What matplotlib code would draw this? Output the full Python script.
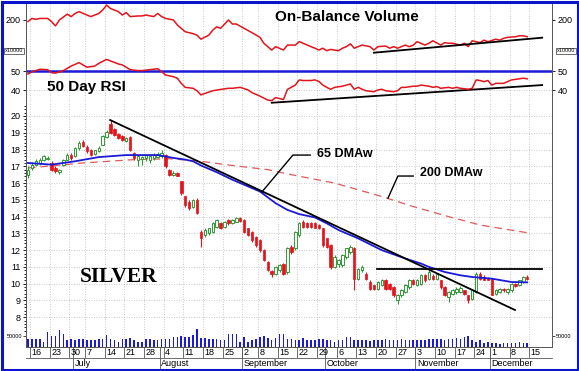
import numpy as np
import pandas as pd
import matplotlib
matplotlib.use('Agg')
import matplotlib.pyplot as plt
import matplotlib.transforms as mtransforms
from matplotlib.patches import Rectangle

plt.rcParams['font.family'] = ['Liberation Sans', 'DejaVu Sans']

# trading days on the axis (prices stop on 12 Dec)
holidays = pd.to_datetime(['2008-07-04', '2008-09-01', '2008-11-27'])
days = pd.bdate_range('2008-06-13', '2008-12-19')
days = days[~days.isin(holidays)]

opens = np.array([
    16.5, 16.9, 17.1, 17.2, 17.4, 17.45, 17.2, 16.9, 16.65, 17.1,
    17.4, 17.7, 17.6, 18.1, 18.45, 18.15, 18.0, 17.75, 17.9, 18.3,
    18.75, 19.5, 19.2, 18.95, 18.8, 18.5, 18.75, 17.8, 17.4, 17.45,
    17.5, 17.4, 17.5, 17.55, 17.6, 17.7, 16.8, 16.5, 16.6, 16.1,
    15.2, 14.9, 14.6, 15.0, 13.1, 12.9, 13.0, 13.1, 13.4, 13.6,
    13.4, 13.8, 13.6, 13.7, 13.9, 13.8, 13.3, 13.1, 12.8, 12.6,
    12.0, 11.3, 10.75, 10.6, 10.8, 11.2, 10.7, 12.2, 12.1, 12.9,
    13.7, 13.6, 13.6, 13.6, 13.5, 13.3, 12.7, 12.3, 11.0, 11.2,
    11.1, 11.6, 11.9, 12.1, 10.3, 10.8, 10.6, 10.1, 9.9, 9.7,
    9.9, 10.2, 10.0, 9.8, 9.0, 9.3, 9.5, 9.8, 10.2, 9.9,
    10.0, 10.5, 10.3, 10.45, 10.3, 10.2, 9.8, 9.2, 9.4, 9.5,
    9.5, 9.6, 9.3, 9.1, 9.5, 10.6, 10.4, 10.35, 10.3, 9.4,
    9.5, 9.7, 9.5, 9.6, 10.0, 9.9, 10.1, 10.4])
highs = np.array([
    17.0, 17.25, 17.45, 17.5, 17.7, 17.6, 17.3, 17.0, 16.85, 17.45,
    17.8, 17.8, 18.15, 18.5, 18.55, 18.25, 18.05, 18.0, 18.2, 18.85,
    19.15, 19.75, 19.3, 19.0, 18.85, 18.75, 18.8, 17.85, 17.7, 17.6,
    17.75, 17.65, 17.8, 17.85, 17.95, 17.75, 16.85, 16.7, 16.65, 16.15,
    15.25, 15.0, 15.05, 15.1, 13.2, 13.3, 13.35, 13.65, 13.85, 13.7,
    13.75, 13.85, 13.85, 14.0, 14.0, 13.85, 13.35, 13.15, 12.85, 12.65,
    12.05, 11.35, 10.8, 11.05, 11.15, 11.25, 12.2, 12.3, 13.15, 13.7,
    13.8, 13.7, 13.65, 13.7, 13.55, 13.35, 12.75, 12.35, 11.7, 11.5,
    11.75, 12.15, 12.3, 12.2, 10.95, 11.1, 10.7, 10.2, 9.95, 10.15,
    10.3, 10.3, 10.05, 9.85, 9.4, 9.7, 10.0, 10.3, 10.3, 10.3,
    10.6, 10.6, 10.8, 10.55, 10.65, 10.25, 9.85, 9.55, 9.7, 9.8,
    9.85, 9.65, 9.35, 9.65, 10.7, 10.7, 10.5, 10.4, 10.35, 9.7,
    9.75, 9.75, 9.75, 10.05, 10.05, 10.25, 10.45, 10.5])
lows = np.array([
    16.3, 16.8, 17.0, 17.1, 17.3, 17.35, 16.7, 16.6, 16.55, 17.0,
    17.35, 17.4, 17.55, 18.0, 18.15, 17.8, 17.6, 17.7, 17.85, 18.25,
    18.7, 18.9, 18.8, 18.6, 18.5, 18.45, 17.9, 17.4, 17.0, 17.1,
    17.3, 17.2, 17.4, 17.5, 17.5, 16.9, 16.45, 16.4, 16.4, 15.3,
    14.55, 14.4, 14.5, 14.15, 12.2, 12.8, 12.9, 13.0, 13.35, 13.25,
    13.3, 13.5, 13.55, 13.65, 13.7, 13.0, 12.85, 12.5, 12.2, 11.9,
    11.35, 10.75, 10.4, 10.5, 10.7, 10.5, 10.6, 11.8, 12.0, 12.8,
    13.35, 13.3, 13.3, 13.3, 13.25, 12.2, 12.1, 10.9, 10.95, 11.0,
    11.0, 11.5, 11.8, 9.6, 10.2, 10.7, 10.2, 9.6, 9.6, 9.6,
    9.85, 9.6, 9.6, 9.2, 8.8, 9.2, 9.45, 9.7, 9.9, 9.85,
    9.9, 10.1, 10.25, 10.2, 10.2, 9.7, 9.25, 8.9, 9.3, 9.4,
    9.45, 9.3, 8.85, 9.0, 9.45, 10.25, 10.2, 10.2, 9.3, 9.3,
    9.45, 9.5, 9.4, 9.5, 9.8, 9.85, 10.05, 10.25])
closes = np.array([
    16.8, 17.1, 17.3, 17.4, 17.6, 17.5, 16.8, 16.7, 16.75, 17.4,
    17.7, 17.5, 18.1, 18.4, 18.2, 17.9, 17.7, 17.95, 18.1, 18.8,
    19.05, 19.0, 18.85, 18.7, 18.55, 18.7, 17.95, 17.5, 17.6, 17.55,
    17.7, 17.6, 17.7, 17.75, 17.8, 17.0, 16.5, 16.6, 16.45, 15.4,
    14.7, 14.5, 15.0, 14.2, 12.75, 13.2, 13.3, 13.6, 13.8, 13.3,
    13.7, 13.6, 13.8, 13.9, 13.75, 13.1, 12.9, 12.6, 12.3, 12.0,
    11.4, 10.8, 10.55, 11.0, 11.1, 10.6, 12.1, 11.9, 13.1, 13.6,
    13.4, 13.4, 13.4, 13.35, 13.3, 12.3, 12.2, 11.0, 11.6, 11.4,
    11.7, 12.1, 12.2, 10.3, 10.9, 11.0, 10.3, 9.7, 9.7, 10.1,
    10.2, 9.7, 9.7, 9.3, 9.3, 9.6, 9.9, 10.2, 10.0, 10.2,
    10.5, 10.2, 10.7, 10.3, 10.6, 9.8, 9.3, 9.5, 9.6, 9.7,
    9.75, 9.4, 9.0, 9.6, 10.6, 10.3, 10.25, 10.25, 9.35, 9.6,
    9.7, 9.6, 9.7, 10.0, 9.85, 10.2, 10.4, 10.3])
# volume in thousands of contracts
volume = np.array([
    38, 35, 35, 35, 25, 67, 50, 50, 77, 60,
    30, 38, 30, 35, 38, 30, 30, 30, 35, 38,
    55, 35, 30, 22, 38, 38, 43, 30, 22, 22,
    35, 38, 30, 30, 38, 38, 38, 47, 47, 50,
    47, 47, 55, 80, 43, 43, 38, 38, 38, 33,
    33, 60, 60, 57, 22, 47, 22, 30, 38, 47,
    50, 43, 33, 43, 60, 60,
    38, 38, 33, 30, 42, 30, 33, 33, 38, 38,
    30, 30, 25, 33, 30, 47, 47, 30, 30, 30,
    30, 27, 30, 30, 30, 38, 30,
    30, 30, 38, 30, 33, 33, 30, 30, 33, 38,
    38, 38, 38, 33, 38, 38, 43, 38, 47, 50,
    30, 22, 30, 17, 22, 17, 17, 13, 17, 17,
    17, 17, 22, 17, 17])

# On-Balance Volume (x10000), read at these trading-day positions
obv_day = [0, 1, 2, 3, 5, 6, 7, 8, 10, 11, 12, 13, 15, 16, 18, 19, 20, 21, 23, 24,
           25, 26, 28, 29, 30, 32, 33, 34, 35, 37, 38, 39, 40, 42, 43, 44, 46, 47, 48, 49,
           51, 52, 53, 55, 57, 59, 60, 62, 63, 65, 66, 68, 69, 70, 72, 73, 74, 75, 76, 77,
           79, 80, 81, 82, 83, 84, 85, 87, 88, 89, 91, 92, 93, 94, 96, 97, 98, 99, 101, 102,
           103, 105, 106, 107, 108, 110, 111, 112, 113, 115, 116, 117, 119, 120, 121, 122,
           124, 125, 126, 127]
obv_val = [195, 205, 202, 205, 205, 195, 181, 200, 219, 211, 221, 227, 216, 211, 221, 232, 248, 237, 227, 216,
           224, 211, 213, 213, 216, 211, 221, 211, 205, 200, 184, 173, 162, 156, 151, 138, 151, 167, 178, 173,
           200, 187, 187, 173, 159, 144, 125, 103, 114, 103, 119, 119, 130, 125, 114, 109, 103, 109, 101, 105,
           101, 109, 114, 123, 109, 114, 119, 114, 103, 114, 116, 109, 114, 109, 119, 114, 119, 130, 119, 125,
           133, 119, 127, 125, 125, 119, 125, 114, 133, 127, 135, 130, 138, 135, 141, 144,
           146, 149, 149, 146]

rsi_day = [0, 1, 2, 3, 5, 6, 7, 9, 10, 11, 13, 14, 15, 17, 18, 20, 21, 23, 24, 25,
           26, 28, 29, 31, 33, 34, 35, 37, 38, 39, 40, 42, 43, 44, 45, 47, 49, 51, 52, 54,
           56, 57, 59, 61, 62, 63, 65, 66, 68, 69, 70, 72, 73, 74, 75, 76, 77, 78, 80, 81,
           82, 83, 84, 85, 86, 88, 89, 90, 91, 93, 94, 95, 96, 98, 99, 100, 102, 103, 104, 105,
           107, 108, 109, 110, 112, 113, 114, 115, 116, 117, 118, 119, 121, 122, 123, 124, 126, 127]
rsi_val = [48.4, 49.6, 50.2, 50.9, 50.7, 49.1, 48.9, 50.2, 51.4, 52.6, 54.4, 53.2, 52.0, 52.6, 54.0, 56.1, 55.3, 53.7, 53.2, 52.0,
           50.7, 50.2, 50.2, 50.7, 51.2, 49.6, 47.9, 47.0, 46.2, 43.5, 41.4, 40.9, 39.6, 37.4, 38.2, 39.6, 40.3, 40.9, 40.9, 41.4,
           40.0, 38.6, 36.8, 34.7, 34.4, 36.0, 35.0, 40.3, 42.6, 45.3, 45.0, 45.0, 45.3, 44.5, 42.6, 41.4, 40.4, 41.4, 42.0, 42.6,
           43.2, 40.4, 41.4, 40.4, 39.6, 39.1, 40.0, 40.4, 39.6, 39.1, 39.6, 41.4, 41.4, 42.0, 42.0, 42.6, 42.0, 41.4, 41.8, 40.9,
           41.4, 40.9, 41.4, 40.9, 40.4, 40.9, 45.3, 45.0, 44.4, 45.0, 42.6, 43.5, 43.5, 44.4, 45.3, 45.6, 46.2, 45.9]

# moving averages
ma65_day = [0, 6, 12, 18, 25, 33, 37, 40, 42, 44, 48, 52, 56, 59, 63, 66, 69, 73, 76, 79,
            84, 90, 96, 100, 102, 106, 110, 113, 118, 123, 127]
ma65_val = [17.2, 17.1, 17.3, 17.55, 17.67, 17.67, 17.5, 17.4, 17.3, 17.05, 16.65, 16.2, 15.8, 15.5, 14.8, 14.4,
            14.15, 13.95, 13.6, 13.2, 12.7, 12.0, 11.5, 11.2, 11.0, 10.7, 10.5, 10.4, 10.3, 10.1, 10.08]
ma200_day = [0, 14, 27, 36, 44, 52, 61, 67, 78, 90, 98, 107, 115, 127]
ma200_val = [16.9, 17.2, 17.4, 17.45, 17.3, 17.05, 16.8, 16.5, 16.0, 15.2, 14.6, 14.0, 13.5, 13.04]

W, H = 579, 371
RED = '#e3141c'
GREEN = '#2f9a35'
BLUE = '#1a1ad8'
XMIN, XMAX = -0.5, 133.3

fig = plt.figure(figsize=(W / 100, H / 100), dpi=100, facecolor='white')


def panel(top, bottom):
    return fig.add_axes([26 / W, (H - bottom) / H, 526 / W, (bottom - top) / H])


ax_obv = panel(3, 54)
ax_rsi = panel(54, 103)
ax = panel(103, 347)

x = np.arange(len(closes))
week_idx = [i for i in range(1, len(days)) if days[i].weekday() < days[i - 1].weekday()]
month_idx = [i for i in range(1, len(days)) if days[i].month != days[i - 1].month]
week_pos = [i - 0.5 for i in week_idx if i - 0.5 < XMAX - 2]

for a in (ax_obv, ax_rsi, ax):
    a.set_xlim(XMIN, XMAX)
    a.set_xticks(week_pos)
    a.tick_params(axis='x', length=0, labelbottom=False)
    a.grid(axis='x', color='#b8b8b8', lw=0.6, ls=(0, (1, 2)))
    a.tick_params(axis='y', which='both', left=True, right=True, labelleft=True, labelright=True,
                  direction='out', length=2.5, width=0.6, labelsize=6.5, pad=1.5)
    a.tick_params(axis='y', which='minor', length=1.3)
    for s in a.spines.values():
        s.set_color('#555555')
        s.set_linewidth(0.7)
    a.spines['top'].set_visible(False)
ax_obv.spines['bottom'].set_visible(False)
ax_rsi.spines['bottom'].set_visible(False)

# On-Balance Volume
ax_obv.plot(obv_day, obv_val, color=RED, lw=1.1)
ax_obv.plot([88, 130.8], [94.5, 142.9], color='black', lw=1.3)
ax_obv.set_ylim(90.3, 254.8)
ax_obv.set_yticks([200])
ax_obv.text(0.473, 0.725, 'On-Balance Volume', transform=ax_obv.transAxes, fontsize=11,
            fontweight='bold', ha='left', va='center')

# RSI
ax_rsi.axhline(50, color=BLUE, lw=1.8, zorder=2)
ax_rsi.plot(rsi_day, rsi_val, color=RED, lw=1.1, zorder=3)
ax_rsi.plot([62, 130.8], [33.3, 42.6], color='black', lw=1.3, clip_on=False)
ax_rsi.set_ylim(33.16, 58.95)
ax_rsi.set_yticks([40, 50])
ax_rsi.grid(axis='y', color='#b8b8b8', lw=0.6, ls=(0, (1, 2)))
ax_rsi.text(0.04, 0.33, '50 Day RSI', transform=ax_rsi.transAxes, fontsize=11,
            fontweight='bold', ha='left', va='center')

# volume at the foot of the price panel
ax_vol = ax.twinx()
ax_vol.bar(x, volume, width=0.4, color=BLUE, zorder=1)
ax_vol.set_ylim(0, 50 * 244 / 11)
ax_vol.set_yticks([50])
ax_vol.set_yticklabels(['50000'])
ax_vol.tick_params(axis='y', left=True, right=True, labelleft=True, labelright=True,
                   direction='out', length=2, width=0.5, labelsize=4, pad=1)
for s in ax_vol.spines.values():
    s.set_visible(False)

# price candles
up = closes >= opens
ax.vlines(x, lows, highs, colors=np.where(up, GREEN, RED), lw=0.8, zorder=3)
ax.bar(x[up], (closes - opens)[up], bottom=opens[up], width=0.62, facecolor='white',
       edgecolor=GREEN, lw=0.7, zorder=4)
ax.bar(x[~up], (opens - closes)[~up], bottom=closes[~up], width=0.62, color=RED,
       edgecolor=RED, lw=0.5, zorder=4)

ax.plot(ma200_day, ma200_val, color='#e25a5a', lw=0.9, ls=(0, (6, 4)), zorder=2)
ax.plot(ma65_day, ma65_val, color=BLUE, lw=1.3, zorder=5)
ax.plot([20.9, 123.9], [19.76, 8.43], color='black', lw=1.3, zorder=6)
ax.plot([88.8, 130.8], [10.87, 10.87], color='black', lw=1.3, zorder=6)

ax.set_ylim(6.225, 20.775)
ax.set_yticks(range(8, 21))
ax.set_yticks(np.arange(7.2, 20.8, 0.2), minor=True)
ax.grid(axis='y', color='#b8b8b8', lw=0.6, ls=(0, (1, 2)))
ax.set_zorder(ax_vol.get_zorder() + 1)
ax.patch.set_visible(False)

ax.plot([59.5, 67.4, 71.8], [15.47, 17.67, 17.67], color='black', lw=1.0, zorder=7)
ax.text(73.6, 17.73, '65 DMAw', fontsize=9, fontweight='bold', ha='left', va='center')
ax.plot([91.6, 94.1, 98.0], [15.11, 16.42, 16.42], color='black', lw=1.0, zorder=7)
ax.text(99.8, 16.6, '200 DMAw', fontsize=9, fontweight='bold', ha='left', va='center')
ax.text(0.103, 0.287, 'SILVER', transform=ax.transAxes, fontsize=15.5, fontweight='bold',
        family='Liberation Serif', ha='left', va='center')

# date strip under the price panel
trans = mtransforms.blended_transform_factory(ax.transData, ax.transAxes)


def py(px):
    return -px / 244.0


ax.plot([XMIN, XMAX], [py(11), py(11)], transform=trans, clip_on=False, color='#555555', lw=0.6)
for i in week_idx:
    p = i - 0.5
    if p >= XMAX - 2:
        continue
    ax.plot([p, p], [0, py(10)], transform=trans, clip_on=False, color='#555555', lw=0.6)
    ax.text(p + 0.4, py(5.5), str(days[i].day), transform=trans, ha='left', va='center', fontsize=6.5)
for i in month_idx:
    p = i - 0.5
    ax.plot([p, p], [0, py(21)], transform=trans, clip_on=False, color='#555555', lw=0.6)
    ax.text(p + 0.4, py(16.5), days[i].strftime('%B'), transform=trans, ha='left', va='center',
            fontsize=6.5)

# x10000 boxes beside the OBV panel
for xp in (14, 566):
    fig.text(xp / W, 1 - 51 / H, 'x10000', fontsize=4, ha='center', va='center',
             bbox=dict(boxstyle='square,pad=0.15', fc='white', ec='#333333', lw=0.5))

# blue frame round the whole chart
fig.patches.append(Rectangle((1.5 / W, 1.5 / H), 1 - 3 / W, 1 - 3 / H, transform=fig.transFigure,
                             fill=False, ec='#0a14c8', lw=2.2))

fig.savefig('out.png', dpi=100, facecolor='white')
